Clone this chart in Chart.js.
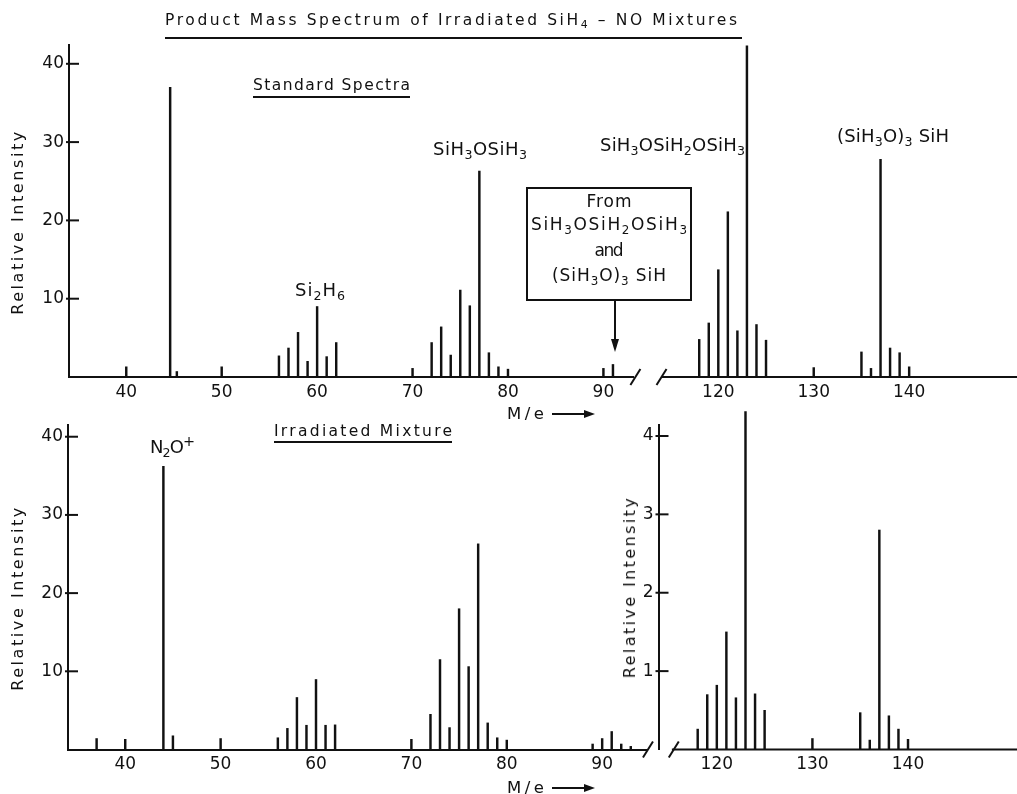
<!DOCTYPE html>
<html>
<head>
<meta charset="utf-8">
<script src="https://cdn.jsdelivr.net/npm/chart.js@4.4.1/dist/chart.umd.min.js"></script>
<style>
  body { margin: 0; background: #fff; }
  #fig { position: relative; width: 1017px; height: 794px; overflow: hidden; font-family: "DejaVu Sans", sans-serif; color: #111; }
  canvas { position: absolute; }
  .lbl { position: absolute; white-space: nowrap; line-height: 1; }
  .lbl sub { font-size: 0.7em; vertical-align: -0.32em; line-height: 0; }
  .lbl sup { font-size: 0.8em; vertical-align: 0.5em; line-height: 0; }
  .rule { position: absolute; background: #111; }
  .box { position: absolute; border: 2px solid #111; box-sizing: border-box; }
</style>
</head>
<body>
<div id="fig"></div>
<script>
// standard spectra, low-mass part (M/e, relative intensity)
const stdLowMass = [40, 44.6, 45.3, 50, 56, 57, 58, 59, 60, 61, 62, 70, 72, 73, 74, 75, 76, 77, 78, 79, 80, 90, 91];
const stdLowInt  = [1.3, 37.0, 0.7, 1.3, 2.7, 3.7, 5.7, 2.0, 9.0, 2.6, 4.4, 1.1, 4.4, 6.4, 2.8, 11.1, 9.1, 26.3, 3.1, 1.3, 1.0, 1.1, 1.6];
// standard spectra, high-mass part
const stdHighMass = [118, 119, 120, 121, 122, 123, 124, 125, 130, 135, 136, 137, 138, 139, 140];
const stdHighInt  = [4.8, 6.9, 13.7, 21.1, 5.9, 42.3, 6.7, 4.7, 1.2, 3.2, 1.1, 27.8, 3.7, 3.1, 1.3];
// irradiated mixture, low-mass part
const mixLowMass = [37, 40, 44, 45, 50, 56, 57, 58, 59, 60, 61, 62, 70, 72, 73, 74, 75, 76, 77, 78, 79, 80, 89, 90, 91, 92, 93];
const mixLowInt  = [1.4, 1.3, 36.2, 1.75, 1.4, 1.5, 2.7, 6.65, 3.1, 8.95, 3.1, 3.15, 1.3, 4.5, 11.5, 2.8, 18.0, 10.6, 26.3, 3.4, 1.5, 1.2, 0.7, 1.4, 2.3, 0.7, 0.4];
// irradiated mixture, high-mass part (own scale)
const mixHighMass = [118, 119, 120, 121, 122, 123, 124, 125, 130, 135, 136, 137, 138, 139, 140];
const mixHighInt  = [0.26, 0.70, 0.82, 1.50, 0.66, 4.31, 0.71, 0.50, 0.14, 0.47, 0.12, 2.80, 0.43, 0.26, 0.13];

const lowTicks = [40, 50, 60, 70, 80, 90];
const highTicks = [120, 130, 140];
const bigYTicks = [10, 20, 30, 40];
const smallYTicks = [1, 2, 3, 4];

const INK = "#111";
const FAMILY = '"DejaVu Sans", sans-serif';
const fig = document.getElementById("fig");

// inward y ticks, axis break slashes, partial baseline
const decor = {
  id: "decor",
  afterDatasetsDraw(chart, args, o) {
    const { ctx, chartArea: a, scales: { x, y } } = chart;
    const base = y.getPixelForValue(0);
    const line = (x1, y1, x2, y2) => { ctx.beginPath(); ctx.moveTo(x1, y1); ctx.lineTo(x2, y2); ctx.stroke(); };
    ctx.save();
    ctx.strokeStyle = INK;
    ctx.lineWidth = 2;
    if (o.yTicks) o.yTicks.forEach(v => { const py = y.getPixelForValue(v); line(a.left - 3, py, a.left + 10, py); });
    if (o.baseFrom != null) line(x.getPixelForValue(o.baseFrom), base, a.right, base);
    if (o.slash != null) { const px = x.getPixelForValue(o.slash); line(px - 5, base + 8, px + 5, base - 8); }
    ctx.restore();
  }
};

function spectrum(box, mass, inten, o) {
  const c = document.createElement("canvas");
  c.width = box.w; c.height = box.h;
  c.style.left = box.x + "px"; c.style.top = box.y + "px";
  fig.appendChild(c);
  return new Chart(c, {
    type: "bar",
    data: { datasets: [{ data: mass.map((m, i) => ({ x: m, y: inten[i] })), backgroundColor: INK, barThickness: 1.8, clip: false }] },
    options: {
      responsive: false, animation: false, devicePixelRatio: 1,
      layout: { padding: o.pad },
      plugins: { legend: { display: false }, tooltip: { enabled: false }, decor: { yTicks: o.yTicks, baseFrom: o.baseFrom, slash: o.slash } },
      scales: {
        x: {
          type: "linear", min: o.xmin, max: o.xmax, offset: false,
          grid: { display: false, drawTicks: false },
          border: { display: o.xBorder !== false, width: 2, color: INK },
          ticks: { font: { size: 17, family: FAMILY }, color: INK, padding: 5, maxRotation: 0, autoSkip: false },
          afterBuildTicks: s => { s.ticks = o.xTicks.map(v => ({ value: v })); },
          afterFit: s => { s.height = o.xh; }
        },
        y: {
          display: !!o.yTicks, min: 0, max: o.ymax,
          grid: { display: false, drawTicks: false },
          border: { display: true, width: 2, color: INK },
          ticks: { font: { size: 17, family: FAMILY }, color: INK, padding: 5 },
          afterBuildTicks: s => { if (o.yTicks) s.ticks = o.yTicks.map(v => ({ value: v })); },
          afterFit: s => { s.width = o.yw || 0; }
        }
      }
    },
    plugins: [decor]
  });
}

spectrum({ x: 0, y: 0, w: 645, h: 400 }, stdLowMass, stdLowInt,
  { xmin: 34, xmax: 93.1, ymax: 42.4, xTicks: lowTicks, yTicks: bigYTicks, yw: 69, xh: 23, pad: { top: 45, right: 12, bottom: 0, left: 0 }, slash: 93.35 });
spectrum({ x: 650, y: 0, w: 367, h: 400 }, stdHighMass, stdHighInt,
  { xmin: 114.1, xmax: 151.3, ymax: 42.4, xTicks: highTicks, xh: 23, pad: { top: 45, right: 0, bottom: 0, left: 12 }, slash: 114.05 });
spectrum({ x: 0, y: 400, w: 660, h: 394 }, mixLowMass, mixLowInt,
  { xmin: 34, xmax: 94.7, ymax: 41.5, xTicks: lowTicks, yTicks: bigYTicks, yw: 68, xh: 44.5, pad: { top: 25, right: 13, bottom: 0, left: 0 }, slash: 94.8 });
spectrum({ x: 600, y: 400, w: 417, h: 394 }, mixHighMass, mixHighInt,
  { xmin: 113.9, xmax: 151.4, ymax: 4.14, xTicks: highTicks, yTicks: smallYTicks, yw: 58.5, xh: 44.5, pad: { top: 25, right: 0, bottom: 0, left: 0 }, xBorder: false, baseFrom: 115.3, slash: 115.5 });

// ---- annotations ----
function label(html, x, base, fs, width, opt = {}) {
  const s = document.createElement("span");
  s.className = "lbl";
  s.innerHTML = html;
  s.style.fontSize = fs + "px";
  fig.appendChild(s);
  const n = s.textContent.length;
  if (width) {
    const w = s.getBoundingClientRect().width;
    s.style.letterSpacing = ((width - w) / (n - 1)) + "px";
  }
  const w2 = width || s.getBoundingClientRect().width;
  if (opt.rotate) {
    s.style.left = x + "px"; s.style.top = base + "px";
    s.style.transform = "translate(-50%,-50%) rotate(-90deg)";
    return s;
  }
  s.style.left = (opt.center ? x - w2 / 2 : x) + "px";
  s.style.top = (base - 0.846 * fs) + "px";
  return s;
}
function rule(x, y, w, h) {
  const d = document.createElement("div");
  d.className = "rule";
  Object.assign(d.style, { left: x + "px", top: y + "px", width: w + "px", height: h + "px" });
  fig.appendChild(d);
}
function head(x, y, dir) {
  const d = document.createElement("div");
  d.style.position = "absolute";
  d.style.width = "0"; d.style.height = "0";
  if (dir === "down") {
    Object.assign(d.style, { left: (x - 4) + "px", top: y + "px", borderLeft: "4px solid transparent", borderRight: "4px solid transparent", borderTop: "13px solid " + INK });
  } else {
    Object.assign(d.style, { left: x + "px", top: (y - 4) + "px", borderTop: "4px solid transparent", borderBottom: "4px solid transparent", borderLeft: "11px solid " + INK });
  }
  fig.appendChild(d);
}

label("Product Mass Spectrum of Irradiated SiH<sub>4</sub> – NO Mixtures", 165, 26, 15.5, 572);
rule(165, 37, 577, 2);
label("Standard Spectra", 253, 90.7, 15.5, 157);
rule(253, 96, 157, 2);
label("Si<sub>2</sub>H<sub>6</sub>", 295, 296.7, 18, 50);
label("SiH<sub>3</sub>OSiH<sub>3</sub>", 433, 155, 18, 94);
label("SiH<sub>3</sub>OSiH<sub>2</sub>OSiH<sub>3</sub>", 600, 151.7, 18, 145);
label("(SiH<sub>3</sub>O)<sub>3</sub> SiH", 837, 142.7, 18, 112);

const bx = document.createElement("div");
bx.className = "box";
Object.assign(bx.style, { left: "526px", top: "187px", width: "166px", height: "114px" });
fig.appendChild(bx);
label("From", 609, 207.7, 17, 45, { center: true });
label("SiH<sub>3</sub>OSiH<sub>2</sub>OSiH<sub>3</sub>", 609, 230, 17, 156, { center: true });
label("and", 609, 256.7, 17, 29, { center: true });
label("(SiH<sub>3</sub>O)<sub>3</sub> SiH", 609, 281.7, 17, 114, { center: true });
rule(614, 301, 2, 39);
head(615, 339, "down");

label("M / e", 507, 420, 16.5, 37);
rule(552, 413, 34, 2);
head(584, 414, "right");
label("M / e", 507, 793.5, 16.5, 37);
rule(552, 787, 34, 2);
head(584, 788, "right");

label("N<sub>2</sub>O<sup>+</sup>", 150, 453.3, 18, 45);
label("Irradiated Mixture", 274, 437.3, 15.5, 178);
rule(274, 441, 178, 2);

label("Relative Intensity", 18, 221.5, 16, 183, { rotate: true });
label("Relative Intensity", 18, 598, 16, 183, { rotate: true });
label("Relative Intensity", 629.7, 586.7, 16, 180, { rotate: true });
</script>
</body>
</html>
